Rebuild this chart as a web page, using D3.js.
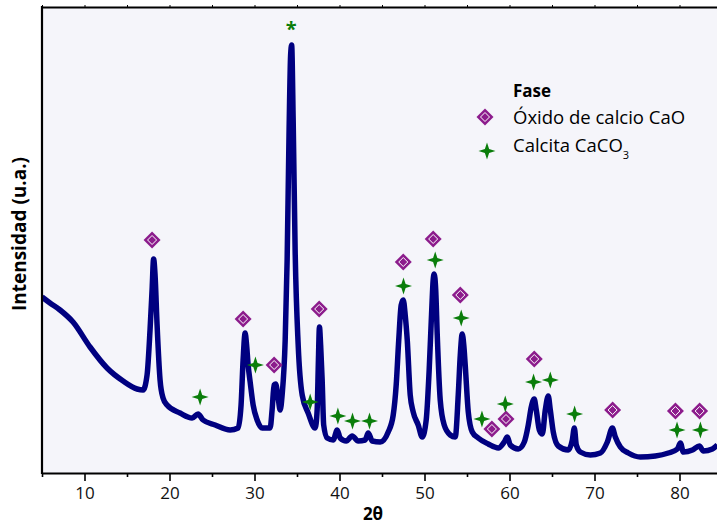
<!DOCTYPE html>
<html>
<head>
<meta charset="utf-8">
<script src="https://cdn.jsdelivr.net/npm/d3@7"></script>
<style>
  body { margin: 0; background: #fff; }
  text { font-family: "Open Sans", sans-serif; }
</style>
</head>
<body>
<div id="chart"></div>
<script>
// XRD pattern (2θ in degrees, intensity in arbitrary units)
var twoTheta = [
  5.0, 5.94, 7.12, 8.65, 10.65, 12.65, 14.54, 16.18, 16.89, 17.36, 17.71, 17.95, 18.13, 18.3, 18.54, 18.89,
  19.24, 19.71, 21.24, 22.66, 23.36, 23.95, 25.37, 27.13, 28.07, 28.42, 28.66, 28.9, 29.07, 29.25, 29.49,
  29.84, 30.31, 30.9, 31.84, 32.07, 32.31, 32.49, 32.78, 33.02, 33.25, 33.61, 33.84, 34.07, 34.25, 34.37,
  34.55, 34.78, 35.14, 35.61, 36.31, 37.14, 37.37, 37.52, 37.64, 37.78, 37.96, 38.14, 38.55, 39.26, 39.73,
  40.08, 40.79, 41.49, 42.2, 43.02, 43.38, 43.85, 44.79, 45.73, 46.32, 46.67, 46.97, 47.26, 47.5, 47.73,
  47.97, 48.32, 48.67, 49.26, 49.73, 50.2, 50.55, 50.85, 51.02, 51.14, 51.32, 51.5, 51.85, 52.32, 53.03,
  53.62, 53.97, 54.21, 54.44, 54.62, 54.79, 55.15, 55.62, 56.32, 57.5, 58.68, 59.38, 59.74, 60.09, 61.03,
  61.74, 62.21, 62.56, 62.91, 63.15, 63.51, 63.86, 64.21, 64.56, 64.8, 65.15, 65.74, 66.92, 67.39, 67.63,
  67.86, 68.33, 69.51, 70.69, 71.51, 72.1, 72.45, 73.04, 73.98, 75.39, 77.16, 78.69, 79.75, 80.1, 80.46,
  81.52, 82.34, 82.81, 83.87, 84.46
]
var intensity = [
  1760, 1700, 1630, 1510, 1260, 1050, 920, 840, 830, 980, 1430, 1830, 2140, 1980, 1480, 930,
  750, 680, 600, 550, 590, 530, 480, 430, 450, 680, 1130, 1400, 1280, 1080, 910,
  680, 530, 450, 450, 630, 880, 890, 750, 630, 780, 1330, 2130, 3430, 4180, 4280,
  3530, 2230, 1280, 780, 600, 450, 630, 1130, 1460, 1280, 930, 480, 350, 330, 430,
  350, 320, 370, 320, 330, 400, 320, 310, 410, 580, 880, 1330, 1680, 1730, 1580,
  1330, 780, 610, 480, 360, 530, 1030, 1630, 1930, 1990, 1830, 1380, 730, 480, 380,
  360, 780, 1180, 1390, 1280, 1080, 610, 410, 350, 290, 250, 310, 360, 280, 240,
  310, 480, 660, 740, 630, 430, 390, 630, 770, 630, 410, 270, 230, 330, 450,
  280, 210, 180, 200, 310, 450, 360, 260, 200, 160, 170, 200, 240, 300, 210,
  230, 270, 220, 240, 280
]

// phase markers
var oxideAngle     = [17.95, 28.66, 32.31, 37.61, 47.5, 51.02, 54.21, 57.93, 59.59, 62.91, 72.13, 79.52, 82.37]
var oxideIntensity = [2330, 1540, 1080, 1640, 2110, 2340, 1780, 440, 540, 1140, 630, 620, 620]
var calciteAngle     = [23.6, 30.11, 36.55, 39.81, 41.53, 43.53, 47.53, 51.26, 54.32, 56.76, 59.5, 62.83, 64.8, 67.66, 79.71, 82.46]
var calciteIntensity = [760, 1080, 710, 570, 520, 520, 1870, 2130, 1550, 540, 690, 910, 930, 590, 430, 430]
var mainPeak = { angle: 34.31, intensity: 4470, label: '*' }

var xTicks = [10, 20, 30, 40, 50, 60, 70, 80]
var xMinorTicks = [5, 15, 25, 35, 45, 55, 65, 75, 85]
var legendLabels = ['Óxido de calcio CaO', 'Calcita CaCO']

var W = 717
  , H = 525
  , pL = 42
  , pR = 722
  , pT = 7
  , pB = 473
  , purple = '#8c1c8c'
  , green = '#0a7d0a'
  , navy = '#000080'

var svg = d3.select('#chart').append('svg').attr('width', W).attr('height', H)

var x = d3.scaleLinear().domain([5, 85]).range([pL, pR])
var y = d3.scaleLinear().domain([0, 4660]).range([pB, pT])

svg.append('defs').append('clipPath').attr('id', 'plot')
  .append('rect').attr('x', pL).attr('y', pT).attr('width', pR - pL).attr('height', pB - pT)

svg.append('rect')
  .attr('x', pL).attr('y', pT)
  .attr('width', pR - pL).attr('height', pB - pT)
  .attr('fill', '#f5f5fa')

var pts = twoTheta.map(function (d, i) { return [d, intensity[i]] })

svg.append('path')
  .datum(pts)
  .attr('clip-path', 'url(#plot)')
  .attr('fill', 'none')
  .attr('stroke', navy)
  .attr('stroke-width', 5.5)
  .attr('stroke-linejoin', 'round')
  .attr('d', d3.line().curve(d3.curveMonotoneX)
    .x(function (d) { return x(d[0]) })
    .y(function (d) { return y(d[1]) }))

// markers
function diamond (s) {
  return 'M0,' + (-s) + 'L' + s + ',0L0,' + s + 'L' + (-s) + ',0Z'
}
function star4 (r, k) {
  var p = []
  for (var i = 0; i < 8; i++) {
    var a = i * Math.PI / 4 - Math.PI / 2
      , rr = i % 2 ? k : r
    p.push([Math.cos(a) * rr, Math.sin(a) * rr])
  }
  return 'M' + p.join('L') + 'Z'
}

function drawOxide (g) {
  g.append('path').attr('d', diamond(8.5)).attr('fill', purple)
  g.append('path').attr('d', diamond(4.5)).attr('fill', 'none').attr('stroke', '#fff').attr('stroke-width', 1)
}
function drawCalcite (g) {
  g.append('path').attr('d', star4(8.5, 3)).attr('fill', green)
}

svg.selectAll('g.oxide').data(oxideAngle)
  .enter().append('g').attr('class', 'oxide')
  .attr('transform', function (d, i) { return 'translate(' + x(d) + ',' + y(oxideIntensity[i]) + ')' })
  .each(function () { drawOxide(d3.select(this)) })

svg.selectAll('g.calcite').data(calciteAngle)
  .enter().append('g').attr('class', 'calcite')
  .attr('transform', function (d, i) { return 'translate(' + x(d) + ',' + y(calciteIntensity[i]) + ')' })
  .each(function () { drawCalcite(d3.select(this)) })

svg.append('text')
  .attr('x', x(mainPeak.angle)).attr('y', y(mainPeak.intensity) + 10)
  .attr('text-anchor', 'middle')
  .attr('font-size', 20).attr('font-weight', 'bold')
  .attr('fill', green)
  .text(mainPeak.label)

// axes
var ax = svg.append('g').attr('transform', 'translate(0,' + pB + ')')
  .call(d3.axisBottom(x).tickValues(xTicks).tickSize(8).tickSizeOuter(0).tickPadding(6))
ax.select('.domain').attr('stroke-width', 2.2)
ax.selectAll('.tick line').attr('stroke-width', 1.6)
ax.selectAll('text').attr('font-size', 17).attr('fill', '#111')

var am = svg.append('g').attr('transform', 'translate(0,' + pB + ')')
  .call(d3.axisBottom(x).tickValues(xMinorTicks).tickSize(4).tickSizeOuter(0).tickFormat(''))
am.select('.domain').remove()
am.selectAll('.tick line').attr('stroke-width', 1.6)

var at = svg.append('g').attr('transform', 'translate(0,' + pT + ')')
  .call(d3.axisTop(x).tickValues(xTicks.concat(xMinorTicks)).tickSize(2).tickSizeOuter(0).tickFormat(''))
at.select('.domain').attr('stroke-width', 2.2)

svg.append('line')
  .attr('x1', pL).attr('x2', pL).attr('y1', pT - 1).attr('y2', pB + 1)
  .attr('stroke', '#000').attr('stroke-width', 2.2)

svg.append('text')
  .attr('x', 373).attr('y', 520)
  .attr('text-anchor', 'middle')
  .attr('font-size', 17).attr('font-weight', 'bold')
  .text('2θ')

svg.append('text')
  .attr('transform', 'translate(26,234) rotate(-90)')
  .attr('text-anchor', 'middle')
  .attr('font-size', 19).attr('font-weight', 'bold')
  .text('Intensidad (u.a.)')

// legend
var lg = svg.append('g')
lg.append('text').attr('x', 513).attr('y', 97).attr('font-size', 17).attr('font-weight', 'bold').text('Fase')
drawOxide(lg.append('g').attr('transform', 'translate(485,117)'))
lg.append('text').attr('x', 513).attr('y', 124).attr('font-size', 18.5).text(legendLabels[0])
drawCalcite(lg.append('g').attr('transform', 'translate(487,151)'))
var t2 = lg.append('text').attr('x', 513).attr('y', 152).attr('font-size', 18.5).text(legendLabels[1])
t2.append('tspan').attr('dy', 7).attr('font-size', 11).text('3')
</script>
</body>
</html>
